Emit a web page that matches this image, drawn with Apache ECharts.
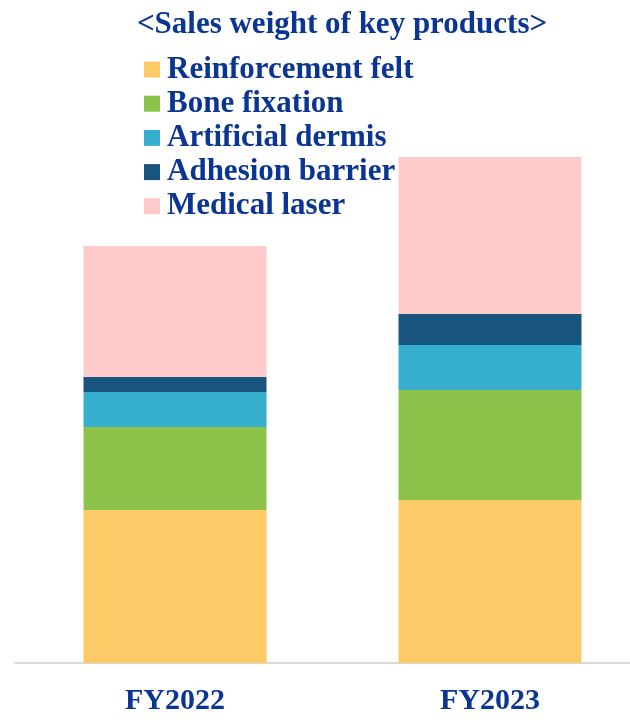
<!DOCTYPE html>
<html>
<head>
<meta charset="utf-8">
<script src="https://cdn.jsdelivr.net/npm/echarts@6/dist/echarts.min.js"></script>
<style>
  html, body { margin: 0; padding: 0; background: #ffffff; }
  #chart { width: 630px; height: 720px; }
</style>
</head>
<body>
<div id="chart"></div>
<script>
// Fiscal years on the category axis
const years = ['FY2022', 'FY2023'];

// Sales of each key product line per year (stacked)
const reinforcementFelt = [15.3, 16.3];
const boneFixation = [8.3, 11.0];
const artificialDermis = [3.5, 4.5];
const adhesionBarrier = [1.5, 3.1];
const medicalLaser = [13.1, 15.7];

const seriesNames = ['Reinforcement felt', 'Bone fixation', 'Artificial dermis', 'Adhesion barrier', 'Medical laser'];
const seriesData = [reinforcementFelt, boneFixation, artificialDermis, adhesionBarrier, medicalLaser];
const seriesColors = ['#fdca68', '#8cc249', '#36afcf', '#17557f', '#fecaca'];

const textColor = '#0a3592';
const serif = '"Liberation Serif", "Times New Roman", serif';

const chart = echarts.init(document.getElementById('chart'), null, { renderer: 'canvas' });

chart.setOption({
  animation: false,
  backgroundColor: '#ffffff',
  title: {
    text: '<Sales weight of key products>',
    left: 342,
    textAlign: 'center',
    top: 9,
    padding: 0,
    textStyle: { fontFamily: serif, fontWeight: 'bold', fontSize: 31, color: textColor }
  },
  legend: {
    orient: 'vertical',
    left: 144,
    top: 54,
    padding: 0,
    itemWidth: 16,
    itemHeight: 16,
    itemGap: 3.2,
    icon: 'rect',
    data: seriesNames,
    textStyle: { fontFamily: serif, fontWeight: 'bold', fontSize: 31, color: textColor, padding: [0, 0, 0, 2] }
  },
  grid: [
    // plot area for the stacked bars (years sit on the grid edges)
    { left: 175, right: 140, top: 63, bottom: 57, containLabel: false },
    // full-width baseline
    { left: 15, right: 0, top: 63, bottom: 57, containLabel: false }
  ],
  xAxis: [
    {
      type: 'category',
      gridIndex: 0,
      data: years,
      boundaryGap: false,
      axisLine: { show: false },
      axisTick: { show: false },
      axisLabel: {
        margin: 23,
        fontFamily: serif,
        fontWeight: 'bold',
        fontSize: 30,
        color: textColor
      },
      splitLine: { show: false }
    },
    {
      type: 'category',
      gridIndex: 1,
      data: years,
      axisLine: { show: true, lineStyle: { color: '#d9d9d9', width: 2 } },
      axisTick: { show: false },
      axisLabel: { show: false },
      splitLine: { show: false }
    }
  ],
  yAxis: [
    { type: 'value', gridIndex: 0, min: 0, max: 60, show: false, splitLine: { show: false } },
    { type: 'value', gridIndex: 1, min: 0, max: 60, show: false, splitLine: { show: false } }
  ],
  series: seriesNames.map((name, i) => ({
    name: name,
    type: 'bar',
    xAxisIndex: 0,
    yAxisIndex: 0,
    stack: 'total',
    barWidth: 183,
    clip: false,
    z: 3,
    data: seriesData[i],
    itemStyle: { color: seriesColors[i] }
  }))
});
</script>
</body>
</html>
